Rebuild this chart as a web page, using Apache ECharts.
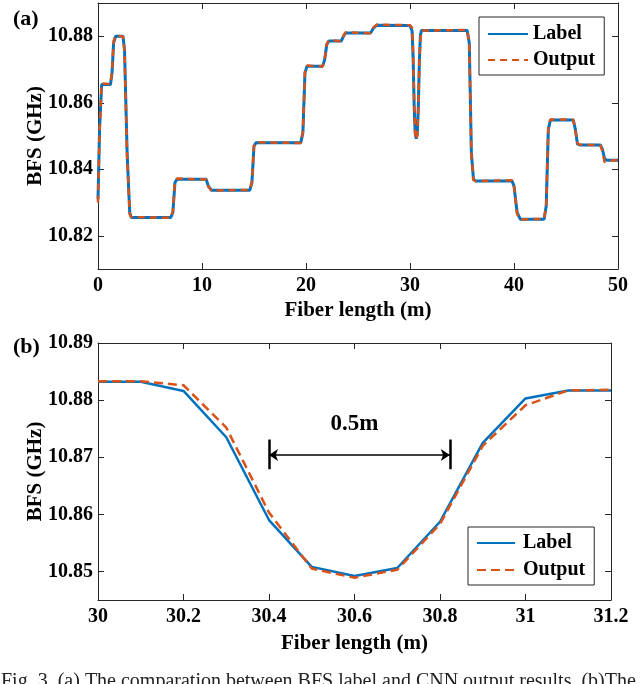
<!DOCTYPE html>
<html>
<head>
<meta charset="utf-8">
<script src="https://cdn.jsdelivr.net/npm/echarts@6/dist/echarts.min.js"></script>
<style>
  html, body { margin: 0; padding: 0; background: #fff; }
  #chart { width: 640px; height: 684px; }
</style>
</head>
<body>
<div id="chart"></div>
<script>
// panel (a): BFS along the whole fiber, [length m, GHz]
const labelA = [
  [0, 10.831], [0.15, 10.852], [0.35, 10.8655], [1.2, 10.8655], [1.35, 10.869], [1.5, 10.878],
  [1.7, 10.880], [2.4, 10.880], [2.55, 10.876], [2.8, 10.845], [3.05, 10.827], [3.2, 10.8255],
  [7.0, 10.8255], [7.2, 10.827], [7.4, 10.836], [7.6, 10.837], [10.4, 10.837], [10.6, 10.835],
  [10.9, 10.8337], [14.6, 10.8337], [14.8, 10.836], [15.0, 10.847], [15.2, 10.848], [19.5, 10.848],
  [19.7, 10.851], [19.9, 10.869], [20.1, 10.871], [21.6, 10.871], [21.8, 10.873], [22.0, 10.8775],
  [22.2, 10.8786], [23.4, 10.8786], [23.6, 10.880], [23.8, 10.881], [26.2, 10.881], [26.5, 10.8825],
  [26.8, 10.8833], [30.0, 10.8832], [30.1, 10.8832], [30.2, 10.8816], [30.3, 10.8735], [30.4, 10.859],
  [30.5, 10.8508], [30.6, 10.8492], [30.7, 10.8506], [30.8, 10.8587], [30.9, 10.8725], [31.0, 10.8803],
  [31.1, 10.8817], [35.5, 10.8817], [35.7, 10.878], [35.9, 10.845], [36.1, 10.837], [36.3, 10.8365],
  [39.8, 10.8365], [40.0, 10.835], [40.3, 10.827], [40.6, 10.825], [42.9, 10.825], [43.1, 10.829],
  [43.3, 10.852], [43.5, 10.8548], [45.7, 10.8548], [45.9, 10.852], [46.1, 10.8476], [46.3, 10.8473],
  [48.3, 10.8473], [48.5, 10.846], [48.7, 10.8433], [48.9, 10.8427], [50, 10.8427]
];
const outputA = [
  [0, 10.830], [0.15, 10.851], [0.35, 10.8658], [1.2, 10.8656], [1.35, 10.8695], [1.5, 10.8785],
  [1.7, 10.8802], [2.4, 10.8799], [2.55, 10.8755], [2.8, 10.844], [3.05, 10.8265], [3.2, 10.8256],
  [7.0, 10.8254], [7.2, 10.8275], [7.4, 10.8362], [7.6, 10.8372], [10.4, 10.8369], [10.6, 10.8348],
  [10.9, 10.8336], [14.6, 10.8338], [14.8, 10.8362], [15.0, 10.8472], [15.2, 10.8481], [19.5, 10.8479],
  [19.7, 10.8512], [19.9, 10.8692], [20.1, 10.8712], [21.6, 10.8709], [21.8, 10.8732], [22.0, 10.8777],
  [22.2, 10.8788], [23.4, 10.8785], [23.6, 10.8801], [23.8, 10.8812], [26.2, 10.8809], [26.5, 10.8827],
  [26.8, 10.8835], [30.0, 10.8833], [30.1, 10.8833], [30.2, 10.8826], [30.3, 10.8752], [30.4, 10.8603],
  [30.5, 10.8505], [30.6, 10.8489], [30.7, 10.8503], [30.8, 10.8583], [30.9, 10.872], [31.0, 10.8791],
  [31.1, 10.8817], [35.5, 10.8819], [35.7, 10.8775], [35.9, 10.8445], [36.1, 10.8368], [36.3, 10.8364],
  [39.8, 10.8367], [40.0, 10.8348], [40.3, 10.8265], [40.6, 10.8249], [42.9, 10.8251], [43.1, 10.8295],
  [43.3, 10.8525], [43.5, 10.855], [45.7, 10.8549], [45.9, 10.8515], [46.1, 10.8478], [46.3, 10.8474],
  [48.3, 10.8472], [48.5, 10.8455], [48.7, 10.8422], [48.9, 10.8424], [50, 10.8428]
];

// panel (b): zoom on the 30-31.2 m dip
const xB = [30, 30.1, 30.2, 30.3, 30.4, 30.5, 30.6, 30.7, 30.8, 30.9, 31, 31.1, 31.2];
const labelB = [10.8832, 10.8832, 10.8816, 10.8735, 10.859, 10.8508, 10.8492, 10.8506, 10.8587, 10.8725, 10.8803, 10.8817, 10.8817];
const outputB = [10.8833, 10.8833, 10.8826, 10.8752, 10.8603, 10.8505, 10.8489, 10.8503, 10.8583, 10.872, 10.8791, 10.8817, 10.8818];

const yTicksA = [10.82, 10.84, 10.86, 10.88];
const yTicksB = [10.85, 10.86, 10.87, 10.88, 10.89];
const xTicksB = [30, 30.2, 30.4, 30.6, 30.8, 31, 31.2];

const BLUE = '#0072BD';
const RED = '#D95319';
const AX = '#262626';
const FONT = 'Liberation Serif';

const tickLab = { fontFamily: FONT, fontWeight: 'bold', fontSize: 20, color: '#000' };
const nameStyle = { fontFamily: FONT, fontWeight: 'bold', fontSize: 21, color: '#000' };

function xAx(grid, min, max, opts) {
  return Object.assign({
    gridIndex: grid, type: 'value', min: min, max: max,
    axisLine: { show: true, onZero: false, lineStyle: { color: AX, width: 1 } },
    axisTick: { show: true, inside: true, length: 6, lineStyle: { color: AX } },
    splitLine: { show: false },
    nameMoveOverlap: false
  }, opts);
}

const chart = echarts.init(document.getElementById('chart'));

const option = {
  animation: false,
  backgroundColor: '#fff',
  grid: [
    { left: 98, top: 3, width: 520, height: 266 },
    { left: 98, top: 343, width: 513, height: 257 }
  ],
  xAxis: [
    xAx(0, 0, 50, {
      interval: 10, position: 'bottom',
      axisLabel: Object.assign({ margin: 7 }, tickLab),
      name: 'Fiber length (m)', nameLocation: 'middle', nameGap: 31, nameTextStyle: nameStyle
    }),
    xAx(0, 0, 50, { interval: 10, position: 'top', axisLabel: { show: false } }),
    xAx(1, 30, 31.2, {
      position: 'bottom',
      axisTick: { show: true, inside: true, length: 6, lineStyle: { color: AX }, customValues: xTicksB },
      axisLabel: Object.assign({ margin: 7, customValues: xTicksB,
        formatter: v => String(parseFloat(v.toFixed(1))) }, tickLab),
      name: 'Fiber length (m)', nameLocation: 'middle', nameGap: 33, nameTextStyle: nameStyle
    }),
    xAx(1, 30, 31.2, {
      position: 'top',
      axisTick: { show: true, inside: true, length: 6, lineStyle: { color: AX }, customValues: xTicksB },
      axisLabel: { show: false }
    })
  ],
  yAxis: [
    xAx(0, 10.81, 10.89, {
      position: 'left',
      axisTick: { show: true, inside: true, length: 6, lineStyle: { color: AX }, customValues: yTicksA },
      axisLabel: Object.assign({ margin: 5, customValues: yTicksA, formatter: v => v.toFixed(2) }, tickLab),
      name: 'BFS (GHz)', nameLocation: 'middle', nameGap: 52, nameTextStyle: nameStyle
    }),
    xAx(0, 10.81, 10.89, {
      position: 'right',
      axisTick: { show: true, inside: true, length: 6, lineStyle: { color: AX }, customValues: yTicksA },
      axisLabel: { show: false }
    }),
    xAx(1, 10.845, 10.89, {
      position: 'left',
      axisTick: { show: true, inside: true, length: 6, lineStyle: { color: AX }, customValues: yTicksB },
      axisLabel: Object.assign({ margin: 5, customValues: yTicksB, formatter: v => v.toFixed(2) }, tickLab),
      name: 'BFS (GHz)', nameLocation: 'middle', nameGap: 52, nameTextStyle: nameStyle
    }),
    xAx(1, 10.845, 10.89, {
      position: 'right',
      axisTick: { show: true, inside: true, length: 6, lineStyle: { color: AX }, customValues: yTicksB },
      axisLabel: { show: false }
    })
  ],
  legend: [
    {
      orient: 'vertical', left: 479, top: 17,
      padding: [6, 9, 4, 8], itemGap: 4, itemWidth: 40, itemHeight: 14,
      backgroundColor: '#fff', borderColor: AX, borderWidth: 1,
      itemStyle: { opacity: 0 },
      textStyle: { fontFamily: FONT, fontWeight: 'bold', fontSize: 20, color: '#000', lineHeight: 22 },
      data: [
        { name: 'Label' },
        { name: 'Output', lineStyle: { type: [7, 5] } }
      ]
    },
    {
      orient: 'vertical', left: 468, top: 527,
      padding: [5, 9, 4, 8], itemGap: 5, itemWidth: 38, itemHeight: 14,
      backgroundColor: '#fff', borderColor: AX, borderWidth: 1,
      itemStyle: { opacity: 0 },
      textStyle: { fontFamily: FONT, fontWeight: 'bold', fontSize: 20, color: '#000', lineHeight: 22, padding: [0, 0, 0, 3] },
      data: [
        { name: 'Label' },
        { name: 'Output', lineStyle: { type: [9, 5] } }
      ]
    }
  ],
  series: [
    {
      name: 'Label', type: 'line', xAxisIndex: 0, yAxisIndex: 0, data: labelA,
      symbol: 'none', lineStyle: { color: BLUE, width: 3 }, itemStyle: { color: BLUE }
    },
    {
      name: 'Output', type: 'line', xAxisIndex: 0, yAxisIndex: 0, data: outputA,
      symbol: 'none', lineStyle: { color: RED, width: 2.5, type: [7, 5] }, itemStyle: { color: RED }
    },
    {
      name: 'Label', type: 'line', xAxisIndex: 2, yAxisIndex: 2,
      data: xB.map((x, i) => [x, labelB[i]]),
      symbol: 'none', lineStyle: { color: BLUE, width: 2.5 }, itemStyle: { color: BLUE },
      markLine: {
        silent: true, animation: false,
        label: { show: false },
        lineStyle: { color: '#000', width: 1.5, type: 'solid' },
        symbol: ['arrow', 'arrow'], symbolSize: [9, 9],
        data: [
          [{ coord: [30.4, 10.8704] }, { coord: [30.823, 10.8704] }],
          [{ coord: [30.4, 10.8731], symbol: 'none' }, { coord: [30.4, 10.8679], symbol: 'none', lineStyle: { width: 2.5 } }],
          [{ coord: [30.823, 10.8731], symbol: 'none' }, { coord: [30.823, 10.8679], symbol: 'none', lineStyle: { width: 2.5 } }]
        ]
      },
      markPoint: {
        silent: true, symbol: 'circle', symbolSize: 0,
        label: { show: true, position: 'inside', formatter: '0.5m',
          fontFamily: FONT, fontWeight: 'bold', fontSize: 23, color: '#000' },
        data: [{ coord: [30.6, 10.8758] }]
      }
    },
    {
      name: 'Output', type: 'line', xAxisIndex: 2, yAxisIndex: 2,
      data: xB.map((x, i) => [x, outputB[i]]),
      symbol: 'none', lineStyle: { color: RED, width: 2.5, type: [9, 5] }, itemStyle: { color: RED }
    }
  ],
  graphic: [
    { type: 'text', left: 13, top: 8, style: { text: '(a)', fontFamily: FONT, fontWeight: 'bold', fontSize: 22, fill: '#000' } },
    { type: 'text', left: 13, top: 336, style: { text: '(b)', fontFamily: FONT, fontWeight: 'bold', fontSize: 22, fill: '#000' } },
    { type: 'text', left: 1, top: 672, style: {
      text: 'Fig. 3. (a) The comparation between BFS label and CNN output results. (b)The',
      fontFamily: FONT, fontSize: 20, fill: '#222' } }
  ]
};

chart.setOption(option);
</script>
</body>
</html>
